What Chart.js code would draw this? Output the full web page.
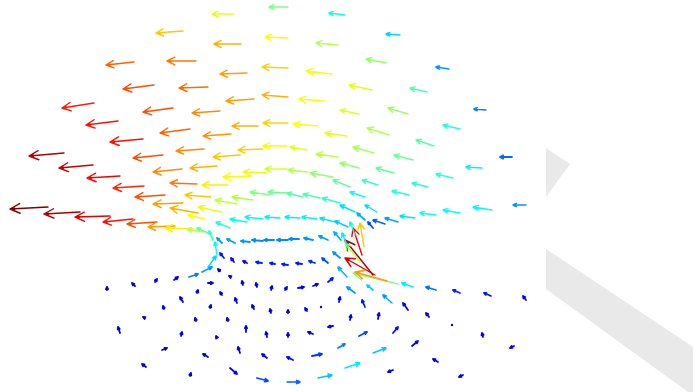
<!DOCTYPE html>
<html>
<head>
<meta charset="utf-8">
<style>
  html, body { margin: 0; padding: 0; background: #ffffff; }
  #wrap { width: 693px; height: 392px; position: relative; }
</style>
<script src="https://cdn.jsdelivr.net/npm/chart.js@4/dist/chart.umd.min.js"></script>
</head>
<body>
<div id="wrap"><canvas id="c" width="693" height="392"></canvas></div>
<script>
// Vector samples: [x, y, u, v, speed] — tail position, displacement, normalised speed (colour)
const outerField = [
  [234,14,-22,0,0.60],[288,7,-19,0,0.50],[345,15,-16,-2,0.38],[400,35,-14,-1,0.33],[449,69,-13,-2,0.27],[486,110,-12,-1,0.25],[512,157,-12,0,0.23],[526,205,-13,0,0.27],
  [183,31,-27,2,0.68],[241,44,-27,0,0.70],[288,38,-23,-1,0.63],[338,45,-22,-2,0.55],[386,63,-20,-4,0.52],[427,92,-17,-4,0.45],[460,129,-17,-4,0.41],[482,168,-16,-1,0.36],[492,210,-19,-3,0.37],
  [134,62,-28,3,0.78],[196,61,-29,0,0.76],[247,73,-27,1,0.72],[288,68,-26,-1,0.67],[332,74,-26,-3,0.62],[372,90,-23,-5,0.60],[408,114,-20,-6,0.53],[434,146,-18,-6,0.46],[453,178,-17,-4,0.42],[460,213,-17,-3,0.38],
  [94,103,-32,5,0.85],[154,85,-31,4,0.80],[208,87,-29,1,0.77],[254,99,-28,2,0.72],[288,97,-26,-2,0.70],[324,101,-25,-2,0.63],[359,114,-19,-4,0.60],[389,135,-22,-7,0.55],[413,160,-19,-5,0.48],[428,187,-16,-4,0.42],[436,215,-16,-2,0.38],
  [118,121,-32,4,0.86],[173,108,-30,4,0.80],[220,111,-28,2,0.74],[258,126,-26,0,0.70],[288,123,-25,0,0.67],[318,126,-25,-2,0.62],[347,136,-22,-3,0.60],[374,153,-21,-6,0.54],[394,173,-18,-5,0.47],[409,195,-17,-4,0.41],[415,218,-15,-2,0.35],
  [143,139,-33,3,0.86],[190,129,-30,4,0.78],[231,134,-28,2,0.73],[263,149,-25,1,0.67],[287,146,-24,0,0.63],[307,150,-17,-3,0.60],[338,157,-22,-3,0.56],[359,168,-19,-5,0.52]
];

const midField = [
  [64,153,-35,3,0.95],[163,155,-30,3,0.80],[204,149,-28,2,0.74],[240,155,-27,2,0.68],
  [93,165,-34,3,0.93],[182,169,-29,3,0.74],[217,166,-27,2,0.70],[252,176,-29,1,0.63],[267,173,-24,-1,0.60],[287,169,-22,0,0.58],[308,172,-20,-2,0.55],[333,177,-23,-4,0.52],[350,187,-17,-7,0.47],[378,185,-16,-5,0.43],
  [120,176,-33,2,0.88],[144,186,-31,2,0.84],[197,184,-27,-1,0.76],[228,185,-26,0,0.64],[211,197,-26,-2,0.68],[237,204,-22,-4,0.57],[253,200,-21,-3,0.55],[270,195,-20,-3,0.50],[287,193,-19,-1,0.48],[303,197,-16,-4,0.46],[320,198,-17,-4,0.45],[340,203,-18,-5,0.42],[365,197,-15,-5,0.38],
  [165,195,-30,2,0.80],[183,203,-30,1,0.72],[198,213,-28,-5,0.70],[222,212,-24,-5,0.60],[205,219,-17,-4,0.62],[355,212,-15,-7,0.35],[377,212,-12,-7,0.35],[365,220,-8,-7,0.30],
  [48,207,-38,2,1.00],[80,212,-36,2,0.96],[110,216,-35,1,0.90],[133,219,-30,3,0.86],[157,222,-30,2,0.80],[175,226,-27,1,0.72],[193,229,-28,-1,0.64],[203,232,-16,-3,0.56]
];

const ringField = [
  [230,228,-14,-6,0.42],[247,222,-17,-3,0.38],[263,219,-18,-2,0.37],[280,218,-15,-1,0.36],[300,218,-15,-1,0.36],[317,219,-15,-2,0.36],[335,222,-15,-4,0.35],[348,227,-13,-6,0.33],
  [222,243,-5,-5,0.28],[235,243,-8,-4,0.28],[250,242,-9,-1,0.27],[263,241,-11,-1,0.26],[274,240,-10,0,0.26],[288,240,-11,0,0.26],[299,239,-10,0,0.26],[313,240,-9,-2,0.27],[328,240,-9,-4,0.28],[341,240,-7,-8,0.30],
  [189,277,9,-3,0.25],[202,272,10,-5,0.28],[208,267,8,-11,0.34],[217,255,-2,-13,0.37],[213,240,-4,-9,0.42],[208,233,-11,-5,0.47],
  [224,258,-4,-5,0.15],[234,262,-3,-4,0.13],[247,263,-4,-2,0.13],[262,263,-6,-1,0.15],[275,264,-5,-1,0.15],[288,265,-6,-1,0.15],[302,264,-6,-1,0.15],[315,263,-6,-2,0.17],[328,263,-6,-5,0.20],[340,258,-7,-6,0.27]
];

const wakeField = [
  [362,255,-9,-27,0.88],[364,247,-4,-24,0.68],[373,275,-28,-35,0.96],[375,275,-30,-17,0.92],[360,262,-15,-19,0.55],[398,284,-45,-11,0.50],[387,281,-32,-9,0.72],
  [355,235,-5,-13,0.40],[348,247,-6,-14,0.36],[373,228,-5,-6,0.20],[385,224,-12,-4,0.22],[398,222,-13,-4,0.28],
  [347,277,-9,-10,0.30],[355,293,-8,-6,0.28],[373,290,-6,-5,0.33],[392,303,-9,-8,0.28],[413,287,-11,-4,0.36],[436,290,-10,-3,0.24],[460,293,-7,-3,0.16],[491,296,-7,-3,0.15],[526,300,-3,-4,0.12]
];

const lowerField = [
  [174,280,4,-3,0.12],[155,282,2,-3,0.10],[135,286,-3,-3,0.08],[107,290,0,-3,0.08],[208,283,5,0,0.10],[220,271,-2,-2,0.10],[231,277,-2,-1,0.10],[243,285,-1,-4,0.11],[257,287,-1,-4,0.11],[271,290,1,-4,0.11],[285,290,2,-3,0.11],[298,288,6,-1,0.12],[313,286,5,-2,0.12],[328,282,5,-4,0.15],[365,307,-3,-7,0.15],
  [197,293,1,-3,0.10],[222,295,-2,-3,0.10],[183,302,-3,-5,0.10],[237,303,-2,-5,0.10],[164,309,-1,-3,0.10],[210,308,1,-3,0.10],[254,309,-2,-4,0.10],[271,313,-1,-4,0.10],[288,313,0,-3,0.10],[307,311,-2,-3,0.10],[322,308,-1,-1,0.10],[339,302,1,-5,0.12],[350,320,1,-5,0.12],[378,319,1,-6,0.12],
  [145,318,-2,-1,0.10],[196,321,-1,-3,0.10],[228,321,-1,-3,0.10],[120,333,-2,-6,0.10],[181,336,1,-4,0.10],[217,338,-1,-2,0.10],[246,332,0,-6,0.10],[267,337,-1,-5,0.10],[288,337,0,-4,0.10],[313,334,-5,-2,0.11],[333,326,-5,1,0.11],[338,348,7,-4,0.25],
  [162,350,5,-2,0.10],[208,357,-5,-3,0.10],[240,353,-2,-6,0.10],[267,358,-5,-4,0.12],[293,360,-6,-3,0.13],[312,356,10,-2,0.18],[345,368,15,-5,0.35],[146,367,-4,-3,0.10],[190,376,1,-3,0.10],[230,368,7,6,0.13],[257,378,11,3,0.20],[287,382,13,0,0.22],[318,378,14,-3,0.32],
  [373,353,13,-5,0.32],[359,336,8,-4,0.20],[393,333,5,-6,0.14],[412,346,6,-5,0.13],[429,317,-3,-4,0.10],[408,310,-5,-7,0.12],[453,325,-1,0,0.08],[483,337,-1,-4,0.10],[514,346,-4,2,0.10],[438,362,-5,-3,0.12],[393,370,-5,2,0.12],[463,375,-4,2,0.10]
];

// Light grey surfaces behind the field (outline vertices in plot units)
const surfaceTip = [[546,148],[570,164],[546,197]];
const surfaceBand = [[546,249],[693,347],[693,392],[688,392],[546,289]];

// Jet colormap
function jet(t) {
  const c = v => Math.round(255 * Math.max(0, Math.min(1, v)));
  return 'rgb(' + c(1.5 - Math.abs(4*t - 3)) + ',' + c(1.5 - Math.abs(4*t - 2)) + ',' + c(1.5 - Math.abs(4*t - 1)) + ')';
}

const quiverPlugin = {
  id: 'quiver',
  beforeDatasetsDraw(chart) {
    const xs = chart.scales.x, ys = chart.scales.y, ctx = chart.ctx;
    ctx.save();
    ctx.fillStyle = '#e9e9e9';
    [surfaceTip, surfaceBand].forEach(poly => {
      ctx.beginPath();
      poly.forEach(([px, py], i) => {
        const X = xs.getPixelForValue(px), Y = ys.getPixelForValue(py);
        if (i === 0) ctx.moveTo(X, Y); else ctx.lineTo(X, Y);
      });
      ctx.closePath();
      ctx.fill();
    });
    ctx.restore();
  },
  afterDatasetsDraw(chart) {
    const xs = chart.scales.x, ys = chart.scales.y, ctx = chart.ctx;
    ctx.save();
    ctx.lineCap = 'round';
    ctx.lineJoin = 'round';
    chart.data.datasets.forEach(ds => {
      (ds.vectors || []).forEach(([x, y, u, v, s]) => {
        const x0 = xs.getPixelForValue(x), y0 = ys.getPixelForValue(y);
        const x1 = xs.getPixelForValue(x + u), y1 = ys.getPixelForValue(y + v);
        const dx = x1 - x0, dy = y1 - y0;
        const L = Math.hypot(dx, dy);
        const col = jet(s);
        ctx.strokeStyle = col;
        ctx.fillStyle = col;
        if (L < 1.5) {
          ctx.beginPath(); ctx.arc(x1, y1, 1.2, 0, Math.PI * 2); ctx.fill();
          return;
        }
        const ang = Math.atan2(dy, dx);
        const hl = Math.max(2.5, Math.min(11, 0.3 * L));
        const ha = 0.45;
        ctx.lineWidth = L > 12 ? 1.4 : 1.8;
        ctx.beginPath();
        ctx.moveTo(x0, y0);
        ctx.lineTo(x1, y1);
        ctx.moveTo(x1 - hl * Math.cos(ang - ha), y1 - hl * Math.sin(ang - ha));
        ctx.lineTo(x1, y1);
        ctx.lineTo(x1 - hl * Math.cos(ang + ha), y1 - hl * Math.sin(ang + ha));
        ctx.stroke();
        // knot where the barbs meet the shaft
        if (L > 12) {
          const k = 0.35 * hl;
          ctx.beginPath();
          ctx.arc(x1 - k * Math.cos(ang), y1 - k * Math.sin(ang), 1.6, 0, Math.PI * 2);
          ctx.fill();
        }
      });
    });
    ctx.restore();
  }
};

const groups = [outerField, midField, ringField, wakeField, lowerField];

new Chart(document.getElementById('c'), {
  type: 'scatter',
  data: {
    datasets: groups.map(g => ({
      data: g.map(([x, y]) => ({ x, y })),
      vectors: g,
      pointRadius: 0,
      pointHoverRadius: 0,
      showLine: false
    }))
  },
  options: {
    responsive: false,
    animation: false,
    events: [],
    layout: { padding: 0 },
    plugins: { legend: { display: false }, tooltip: { enabled: false }, title: { display: false } },
    scales: {
      x: { type: 'linear', min: 0, max: 693, display: false },
      y: { type: 'linear', min: 0, max: 392, reverse: true, display: false }
    }
  },
  plugins: [quiverPlugin]
});
</script>
</body>
</html>
